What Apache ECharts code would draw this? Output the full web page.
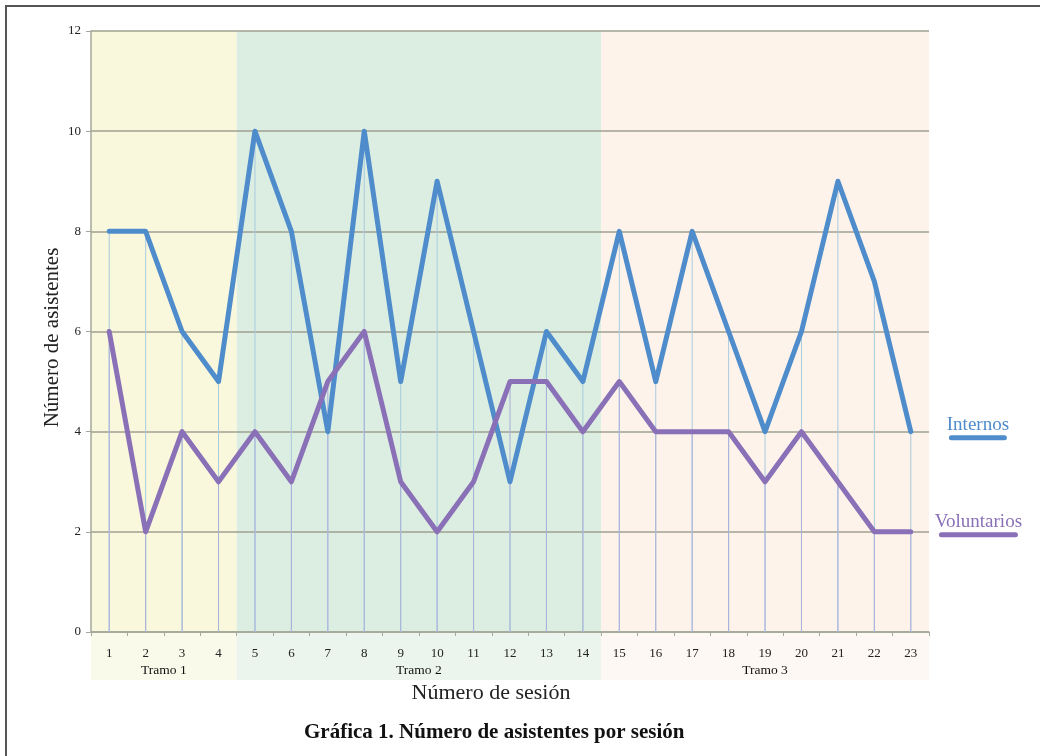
<!DOCTYPE html>
<html>
<head>
<meta charset="utf-8">
<script src="https://cdn.jsdelivr.net/npm/echarts@6/dist/echarts.min.js"></script>
<style>html,body{margin:0;padding:0;background:#fff}#c{width:1040px;height:756px}</style>
</head>
<body>
<div id="c"></div>
<script>
const sessions = ['1','2','3','4','5','6','7','8','9','10','11','12','13','14','15','16','17','18','19','20','21','22','23'];
const internos = [8,8,6,5,10,8,4,10,5,9,6,3,6,5,8,5,8,6,4,6,9,7,4];
const voluntarios = [6,2,4,3,4,3,5,6,3,2,3,5,5,4,5,4,4,4,3,4,3,2,2];
const tramoNames = ['Tramo 1','Tramo 2','Tramo 3'];
const tramoStart = [0,4,14];
const tramoEnd = [3,13,22];
const yTicks = [0,2,4,6,8,10,12];

const bandColors = ['#f9f8dc','#dcede1','#fdf3ea'];
const bandLight = ['#fafaeb','#ebf5ee','#fdf8f3'];
const blue = '#4f8ccb';
const purple = '#8a70b6';
const serif = '"Liberation Serif","DejaVu Serif",serif';

const tramoData = tramoNames.map((n,i)=>[tramoStart[i], tramoEnd[i], i]);

const chart = echarts.init(document.getElementById('c'));
chart.setOption({
  animation:false,
  backgroundColor:'#fff',
  textStyle:{fontFamily:serif},
  title:{
    text:'Gráfica 1. Número de asistentes por sesión',
    left:299, top:717,
    textStyle:{fontFamily:serif,fontSize:21,fontWeight:'bold',color:'#111'}
  },
  graphic:[{type:'rect',shape:{x:6,y:6,width:1200,height:900},style:{fill:null,stroke:'#555',lineWidth:2},silent:true,z:-10}],
  grid:{left:91,right:111,top:31,bottom:124},
  xAxis:{
    type:'category', data:sessions,
    name:'Número de sesión', nameLocation:'middle', nameGap:50,
    nameTextStyle:{fontFamily:serif,fontSize:22,color:'#222',padding:[0,38,0,0]},
    axisLine:{lineStyle:{color:'#a3a89a',width:1.5}},
    axisTick:{show:true,length:4,lineStyle:{color:'#a3a89a'}},
    axisLabel:{fontFamily:serif,fontSize:13,color:'#222',margin:15}
  },
  yAxis:{
    type:'value', min:yTicks[0], max:yTicks[yTicks.length-1], interval:2,
    name:'Número de asistentes', nameLocation:'middle', nameGap:28, nameRotate:90,
    nameMoveOverlap:false,
    nameTextStyle:{fontFamily:serif,fontSize:21,color:'#222',padding:[0,12,0,0]},
    axisLine:{show:true,lineStyle:{color:'#a3a89a',width:1.5}},
    axisTick:{show:true,length:5,lineStyle:{color:'#a3a89a'}},
    axisLabel:{fontFamily:serif,fontSize:13,color:'#222',margin:10},
    splitLine:{lineStyle:{color:'#9fa190',width:1.5}}
  },
  series:[
    {
      type:'custom', z:-1, clip:false, silent:true,
      data:tramoData,
      encode:{x:[0,1]},
      renderItem:function(params, api){
        const s = api.value(0), e = api.value(1), k = api.value(2);
        const bw = api.size([1,0])[0];
        const p0 = api.coord([s,0]);
        const p1 = api.coord([e,0]);
        const top = api.coord([s,12])[1];
        const x0 = p0[0]-bw/2, x1 = p1[0]+bw/2;
        return {type:'group',children:[
          {type:'rect',shape:{x:x0,y:top,width:x1-x0,height:p0[1]-top},style:{fill:bandColors[k]}},
          {type:'rect',shape:{x:x0,y:p0[1],width:x1-x0,height:48},style:{fill:bandLight[k]}},
          {type:'text',style:{text:tramoNames[k],x:(x0+x1)/2,y:p0[1]+38,align:'center',verticalAlign:'middle',font:'13.5px '+serif,fill:'#111'}}
        ]};
      }
    },
    {
      name:'InternosDrop', type:'bar', data:internos, barWidth:1, barGap:'-100%', silent:true,
      itemStyle:{color:'#a9cbe0'}, z:1
    },
    {
      name:'VoluntariosDrop', type:'bar', data:voluntarios, barWidth:1, barGap:'-100%', silent:true,
      itemStyle:{color:'#aab0da'}, z:1
    },
    {
      name:'Internos', type:'line', data:internos, symbol:'none',
      lineStyle:{color:blue,width:5,cap:'round',join:'round'}, z:3,
      endLabel:{show:true, offset:[28,-4],
        formatter:'{t|Internos}\n{u|}',
        rich:{t:{fontFamily:serif,fontSize:19,color:blue,lineHeight:20,align:'center'},
              u:{width:58,height:5,backgroundColor:blue,borderRadius:2.5,align:'center'}}}
    },
    {
      name:'Voluntarios', type:'line', data:voluntarios, symbol:'none',
      lineStyle:{color:purple,width:5,cap:'round',join:'round'}, z:3,
      endLabel:{show:true, offset:[16,-7],
        formatter:'{t|Voluntarios}\n{u|}',
        rich:{t:{fontFamily:serif,fontSize:19,color:purple,lineHeight:20,align:'center'},
              u:{width:79,height:5,backgroundColor:purple,borderRadius:2.5,align:'center'}}}
    }
  ]
});
</script>
</body>
</html>
